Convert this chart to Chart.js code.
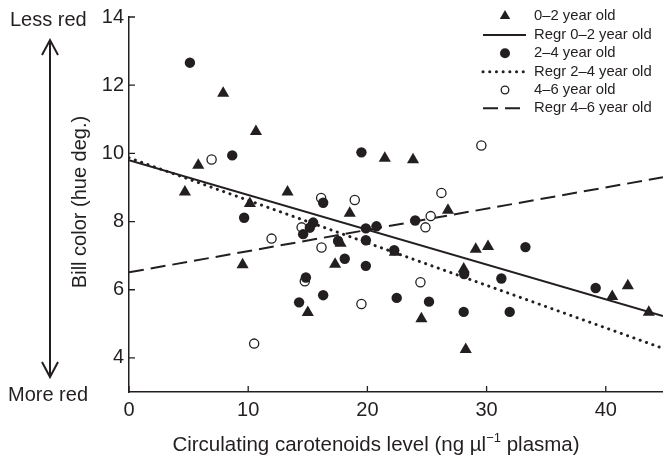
<!DOCTYPE html>
<html>
<head>
<meta charset="utf-8">
<script src="https://cdn.jsdelivr.net/npm/chart.js@4.4.1/dist/chart.umd.min.js"></script>
<style>
  html, body { margin: 0; padding: 0; background: #fff; }
  #wrap { width: 663px; height: 455px; }
</style>
</head>
<body>
<div id="wrap"><canvas id="chart" width="663" height="455"></canvas></div>
<script>
const INK = "#231f20";
const FONT = "'Liberation Sans', Arial, Helvetica, sans-serif";

const xTicks = [0, 10, 20, 30, 40];
const yTicks = [4, 6, 8, 10, 12, 14];

// 0–2 year old (filled triangles)
const age02X = [4.69, 5.81, 7.90, 10.65, 13.30, 10.14, 9.53, 15.0, 18.52, 17.75, 17.29, 21.46,
                23.83, 26.76, 29.09, 30.12, 28.08, 22.30, 24.53, 28.25, 40.54, 41.85, 43.61];
const age02Y = [8.87, 9.65, 11.76, 10.64, 8.87, 8.53, 6.73, 5.33, 8.24, 7.36, 6.75, 9.86,
                9.81, 8.33, 7.19, 7.27, 6.61, 7.10, 5.15, 4.25, 5.80, 6.12, 5.34];

// 2–4 year old (filled circles)
const age24X = [5.11, 8.66, 9.66, 16.29, 15.45, 15.17, 14.61, 14.84, 14.27, 16.29, 17.54, 18.10, 19.50, 19.87,
                20.76, 19.87, 19.87, 22.25, 24.01, 22.46, 25.17, 28.08, 28.12, 31.24, 31.94, 33.26, 39.15];
const age24Y = [12.66, 9.94, 8.11, 8.55, 7.97, 7.82, 7.63, 6.36, 5.63, 5.84, 7.43, 6.91, 10.03, 7.80,
                7.86, 7.45, 6.70, 7.16, 8.03, 5.76, 5.65, 5.35, 6.46, 6.33, 5.35, 7.25, 6.05];

// 4–6 year old (open circles)
const age46X = [6.93, 16.12, 14.48, 11.96, 16.15, 14.75, 10.50, 18.94, 19.50, 24.45, 29.56, 26.21, 25.31, 24.87];
const age46Y = [9.82, 8.69, 7.83, 7.50, 7.24, 6.25, 4.42, 8.63, 5.58, 6.22, 10.23, 8.84, 8.16, 7.83];

// regression lines, end points
const regrX = [0, 44.8];
const regr02Y = [9.80, 5.23];
const regr24Y = [9.87, 4.28];
const regr46Y = [6.51, 9.30];

const pts = (xs, ys) => xs.map((x, i) => ({ x, y: ys[i] }));

const legendRows = [16, 35, 53.3, 71.7, 90, 108.3];

// inward tick marks, side annotations, axis titles and the legend
const decor = {
  id: "decor",
  afterDraw(chart) {
    const { ctx, chartArea: a, scales: { x, y } } = chart;
    ctx.save();
    ctx.strokeStyle = INK;
    ctx.fillStyle = INK;

    // ticks point into the plot
    ctx.lineWidth = 1.3;
    ctx.beginPath();
    xTicks.forEach(v => {
      const px = x.getPixelForValue(v);
      ctx.moveTo(px, a.bottom); ctx.lineTo(px, a.bottom - 6);
    });
    yTicks.forEach(v => {
      const py = y.getPixelForValue(v);
      ctx.moveTo(a.left, py); ctx.lineTo(a.left + 6, py);
    });
    ctx.stroke();

    // double arrow on the left
    ctx.lineWidth = 2;
    ctx.beginPath();
    ctx.moveTo(50, 41); ctx.lineTo(50, 376);
    ctx.moveTo(42, 55); ctx.lineTo(50, 40); ctx.lineTo(58, 55);
    ctx.moveTo(42, 362); ctx.lineTo(50, 377); ctx.lineTo(58, 362);
    ctx.stroke();

    ctx.font = "20px " + FONT;
    ctx.textBaseline = "middle";
    ctx.textAlign = "left";
    ctx.fillText("Less red", 10, 20);
    ctx.fillText("More red", 8, 395);

    // y title
    ctx.save();
    ctx.translate(80, 202);
    ctx.rotate(-Math.PI / 2);
    ctx.textAlign = "center";
    ctx.fillText("Bill color (hue deg.)", 0, 0);
    ctx.restore();

    // x title with superscript
    const t1 = "Circulating carotenoids level (ng \u00b5l", sup = "\u22121", t2 = " plasma)";
    ctx.font = "20.5px " + FONT;
    const w1 = ctx.measureText(t1).width, w3 = ctx.measureText(t2).width;
    ctx.font = "13px " + FONT;
    const w2 = ctx.measureText(sup).width;
    let tx = 376 - (w1 + w2 + w3) / 2;
    ctx.textBaseline = "alphabetic";
    ctx.font = "20.5px " + FONT;
    ctx.fillText(t1, tx, 451);
    ctx.font = "13px " + FONT;
    ctx.fillText(sup, tx + w1, 442);
    ctx.font = "20.5px " + FONT;
    ctx.fillText(t2, tx + w1 + w2, 451);

    // legend
    ctx.font = "14.8px " + FONT;
    ctx.textBaseline = "middle";
    chart.data.datasets.forEach((ds, i) => {
      const ry = legendRows[i];
      ctx.save();
      if (ds.showLine) {
        ctx.lineWidth = ds.borderWidth;
        ctx.lineCap = ds.borderCapStyle || "butt";
        ctx.setLineDash(ds.borderDash || []);
        ctx.beginPath();
        ctx.moveTo(483, ry); ctx.lineTo(526, ry);
        ctx.stroke();
      } else if (ds.pointStyle === "triangle") {
        const r = 6;
        ctx.beginPath();
        ctx.moveTo(505, ry - r);
        ctx.lineTo(505 + r * 0.866, ry + r / 2);
        ctx.lineTo(505 - r * 0.866, ry + r / 2);
        ctx.closePath();
        ctx.fill();
      } else {
        ctx.beginPath();
        ctx.arc(505, ry, ds.legendRadius, 0, Math.PI * 2);
        ctx.fillStyle = ds.backgroundColor;
        ctx.fill();
        if (ds.borderWidth) { ctx.lineWidth = ds.borderWidth; ctx.stroke(); }
      }
      ctx.restore();
      ctx.fillText(ds.label, 534, ry);
    });
    ctx.restore();
  }
};

const axisCommon = {
  grid: { display: false, drawTicks: false },
  border: { display: true, color: INK, width: 1.5 },
  ticks: { color: INK, font: { family: FONT, size: 20 }, autoSkip: false, maxRotation: 0 }
};

new Chart(document.getElementById("chart"), {
  type: "scatter",
  data: {
    datasets: [
      { label: "0\u20132 year old", data: pts(age02X, age02Y), pointStyle: "triangle", pointRadius: 7,
        backgroundColor: INK, borderColor: INK, borderWidth: 0 },
      { label: "Regr 0\u20132 year old", data: pts(regrX, regr02Y), showLine: true, pointRadius: 0,
        borderColor: INK, borderWidth: 2 },
      { label: "2\u20134 year old", data: pts(age24X, age24Y), pointStyle: "circle", pointRadius: 5.2, legendRadius: 5,
        backgroundColor: INK, borderColor: INK, borderWidth: 0 },
      { label: "Regr 2\u20134 year old", data: pts(regrX, regr24Y), showLine: true, pointRadius: 0,
        borderColor: INK, borderWidth: 3, borderDash: [0.1, 6.6], borderCapStyle: "round" },
      { label: "4\u20136 year old", data: pts(age46X, age46Y), pointStyle: "circle", pointRadius: 4.6, legendRadius: 3.8,
        backgroundColor: "#fff", borderColor: INK, borderWidth: 1.3 },
      { label: "Regr 4\u20136 year old", data: pts(regrX, regr46Y), showLine: true, pointRadius: 0,
        borderColor: INK, borderWidth: 2, borderDash: [15, 7] }
    ]
  },
  options: {
    responsive: false,
    animation: false,
    layout: { autoPadding: false, padding: { top: 15, right: 0, bottom: 0, left: 0 } },
    plugins: { legend: { display: false }, tooltip: { enabled: false } },
    scales: {
      x: {
        ...axisCommon,
        type: "linear", min: 0, max: 44.8,
        ticks: { ...axisCommon.ticks, padding: 6 },
        afterBuildTicks: s => { s.ticks = xTicks.map(v => ({ value: v })); },
        afterFit: s => { s.height = 63; s.paddingLeft = 0; s.paddingRight = 0; }
      },
      y: {
        ...axisCommon,
        type: "linear", min: 3, max: 14,
        ticks: { ...axisCommon.ticks, padding: 5 },
        afterBuildTicks: s => { s.ticks = yTicks.map(v => ({ value: v })); },
        afterFit: s => { s.width = 129; }
      }
    }
  },
  plugins: [decor]
});
</script>
</body>
</html>
